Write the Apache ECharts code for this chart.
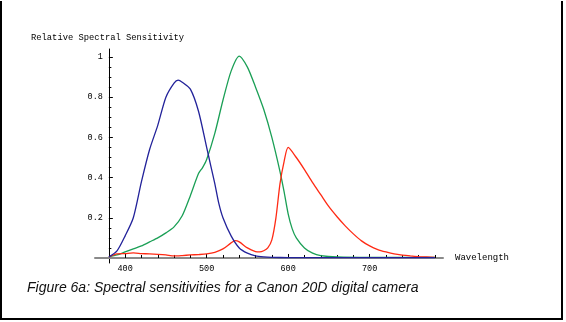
<!DOCTYPE html>
<html>
<head>
<meta charset="utf-8">
<script src="https://cdn.jsdelivr.net/npm/echarts@6/dist/echarts.min.js"></script>
<style>
html,body{margin:0;padding:0;background:#fff;}
#chart{position:absolute;left:0;top:0;width:566px;height:322px;}
#frame{position:absolute;left:0;top:1px;width:559px;height:317px;border-left:2px solid #000;border-right:2px solid #000;border-bottom:2px solid #000;pointer-events:none;}
</style>
</head>
<body>
<div id="chart"></div>
<div id="frame"></div>
<script>
// ---- data ----
const blueNm  = [380,390,400,410,420,430,440,450,460,465,470,480,490,500,505,510,515,520,530,540,550,560,570,580,600,650,700,750,780];
const blueVal = [0.005,0.035,0.11,0.20,0.38,0.54,0.66,0.80,0.87,0.885,0.875,0.84,0.73,0.55,0.46,0.37,0.27,0.20,0.11,0.05,0.024,0.01,0.005,0.003,0.002,0.002,0.002,0.002,0.002];

const greenNm  = [380,390,400,410,420,430,440,450,460,470,480,490,495,500,510,520,530,540,550,560,570,580,590,595,600,605,610,620,630,640,660,700,780];
const greenVal = [0.005,0.015,0.03,0.045,0.06,0.08,0.10,0.125,0.155,0.21,0.31,0.42,0.45,0.49,0.62,0.785,0.93,1.005,0.95,0.85,0.74,0.60,0.43,0.33,0.22,0.145,0.10,0.05,0.024,0.012,0.005,0.003,0.003];

const redNm  = [380,390,400,410,420,430,440,450,460,470,480,490,500,510,520,530,535,540,550,560,565,570,575,580,585,590,595,600,610,620,630,640,650,660,670,680,690,700,710,720,730,740,750,760,770,780];
const redVal = [0.005,0.02,0.022,0.025,0.022,0.02,0.018,0.015,0.01,0.012,0.015,0.017,0.02,0.028,0.045,0.075,0.086,0.08,0.05,0.032,0.03,0.036,0.05,0.09,0.20,0.37,0.48,0.55,0.50,0.44,0.375,0.315,0.255,0.205,0.16,0.12,0.085,0.06,0.042,0.03,0.02,0.014,0.01,0.007,0.005,0.003];

const xMajorTicks = [400,500,600,700];
const xMinorTicks = [420,440,460,480,520,540,560,580,620,640,660,680,720,740,760,780];
const yMajorTicks = [0.2,0.4,0.6,0.8,1];
const yMinorTicks = [0.05,0.1,0.15,0.25,0.3,0.35,0.45,0.5,0.55,0.65,0.7,0.75,0.85,0.9,0.95];

const xMin = 363, xMax = 790, yAxisAt = 380;
const yMin = -0.025, yMax = 1.04;

// ---- layout ----
const gridLeft = 95, gridWidth = 348, gridTop = 49, gridHeight = 214;
const yOffset = -(yAxisAt - xMin) / (xMax - xMin) * gridWidth;

const mono = 'Liberation Mono';
const zip = (a, b) => a.map((v, i) => [v, b[i]]);

const chart = echarts.init(document.getElementById('chart'), null, {renderer: 'canvas'});

function yAx(major) {
  return {
    type: 'value', min: yMin, max: yMax, position: 'left', offset: yOffset,
    axisLine: {show: major, onZero: false, lineStyle: {color: '#000', width: 1}},
    axisTick: {show: true, inside: true, length: major ? 4 : 2.5,
      customValues: major ? yMajorTicks : yMinorTicks, lineStyle: {color: '#000', width: 1}},
    axisLabel: {show: major, customValues: yMajorTicks, margin: 6,
      fontFamily: mono, fontSize: 8.5, color: '#000'},
    splitLine: {show: false}
  };
}
function xAx(major) {
  return {
    type: 'value', min: xMin, max: xMax, position: 'bottom',
    name: major ? 'Wavelength' : '', nameLocation: 'end', nameGap: 12,
    nameTextStyle: {fontFamily: mono, fontSize: 9, color: '#000', verticalAlign: 'middle'},
    axisLine: {show: major, onZero: true, lineStyle: {color: '#8a8a8a', width: 2}},
    axisTick: {show: true, inside: true, length: major ? 4 : 3,
      customValues: major ? xMajorTicks : xMinorTicks, lineStyle: {color: '#000', width: 1}},
    axisLabel: {show: major, customValues: xMajorTicks, margin: 1,
      fontFamily: mono, fontSize: 8.5, color: '#000'},
    splitLine: {show: false}
  };
}

const lineSeries = (name, nm, val, color) => ({
  name, type: 'line', data: zip(nm, val), showSymbol: false, smooth: 0.25,
  xAxisIndex: 0, yAxisIndex: 0, clip: false,
  lineStyle: {color, width: 1.3}, itemStyle: {color}
});

chart.setOption({
  animation: false,
  backgroundColor: '#fff',
  title: [
    {text: 'Relative Spectral Sensitivity', left: 31, top: 33, padding: 0,
     textStyle: {fontFamily: mono, fontSize: 8.8, fontWeight: 'normal', color: '#000'}},
    {text: 'Figure 6a: Spectral sensitivities for a Canon 20D digital camera', left: 27, top: 281, padding: 0,
     textStyle: {fontFamily: 'Liberation Sans', fontSize: 14, fontStyle: 'italic', fontWeight: 'normal', color: '#111'}}
  ],
  grid: {left: gridLeft, width: gridWidth, top: gridTop, height: gridHeight, containLabel: false},
  xAxis: [xAx(true), xAx(false)],
  yAxis: [yAx(true), yAx(false)],
  series: [
    lineSeries('green', greenNm, greenVal, '#1a9f55'),
    lineSeries('red', redNm, redVal, '#ff2a14'),
    lineSeries('blue', blueNm, blueVal, '#22229a')
  ]
});
</script>
</body>
</html>
